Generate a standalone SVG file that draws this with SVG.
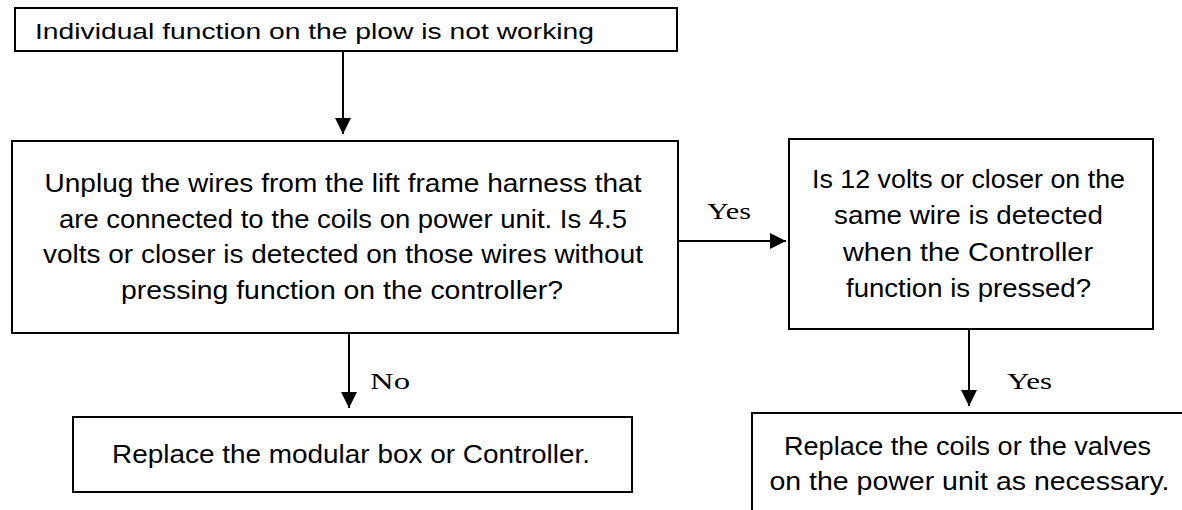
<svg xmlns="http://www.w3.org/2000/svg" width="1182" height="510" viewBox="0 0 1182 510">
<defs>
<marker id="ah" markerWidth="16" markerHeight="16" refX="16" refY="8" orient="auto" markerUnits="userSpaceOnUse"><path d="M0,0 L16,8 L0,16 Z" fill="#000"/></marker>
<style>
.box{fill:#fff;stroke:#000;stroke-width:2}
.t{font-family:"Liberation Sans",Arial,sans-serif;font-size:26px;fill:#000;text-anchor:middle}
.s{font-size:21.5px;text-anchor:start}
.lbl{font-family:"Liberation Serif","Times New Roman",serif;font-size:24px;fill:#000}
.c{stroke:#000;stroke-width:2;fill:none}
</style>
</defs>
<rect width="1182" height="510" fill="#fff"/>
<g id="n1"><rect class="box" x="15" y="8" width="662" height="43"/><text class="t s" x="35" y="39" textLength="559" lengthAdjust="spacingAndGlyphs">Individual function on the plow is not working</text></g>
<g id="n2"><rect class="box" x="12" y="141" width="666" height="192"/>
<text class="t" x="343" y="192" textLength="597" lengthAdjust="spacingAndGlyphs">Unplug the wires from the lift frame harness that</text>
<text class="t" x="343" y="227.5" textLength="568" lengthAdjust="spacingAndGlyphs">are connected to the coils on power unit. Is 4.5</text>
<text class="t" x="343" y="263" textLength="600" lengthAdjust="spacingAndGlyphs">volts or closer is detected on those wires without</text>
<text class="t" x="342" y="298.5" textLength="442" lengthAdjust="spacingAndGlyphs">pressing function on the  controller?</text></g>
<g id="n3"><rect class="box" x="789" y="139" width="364" height="190"/>
<text class="t" x="968.5" y="188" textLength="313" lengthAdjust="spacingAndGlyphs">Is 12 volts or closer on the</text>
<text class="t" x="968.5" y="224" textLength="269" lengthAdjust="spacingAndGlyphs">same wire is detected</text>
<text class="t" x="968" y="260.5" textLength="250" lengthAdjust="spacingAndGlyphs">when the Controller</text>
<text class="t" x="968.5" y="296.5" textLength="245" lengthAdjust="spacingAndGlyphs">function is pressed?</text></g>
<g id="n4"><rect class="box" x="73" y="417" width="559" height="75"/>
<text class="t" x="351" y="463" textLength="478" lengthAdjust="spacingAndGlyphs">Replace the modular box or Controller.</text></g>
<g id="n5"><rect class="box" x="752" y="413" width="460" height="120"/>
<text class="t" x="967.5" y="455" textLength="367" lengthAdjust="spacingAndGlyphs">Replace the coils or the valves</text>
<text class="t" x="969.5" y="490" textLength="400" lengthAdjust="spacingAndGlyphs">on the power unit as necessary.</text></g>
<g id="connectors">
<line class="c" x1="343" y1="51" x2="343" y2="134" marker-end="url(#ah)"/>
<line class="c" x1="678" y1="241" x2="786" y2="241" marker-end="url(#ah)"/>
<line class="c" x1="349" y1="333" x2="349" y2="408" marker-end="url(#ah)"/>
<line class="c" x1="969" y1="329" x2="969" y2="406" marker-end="url(#ah)"/>
<text class="lbl" x="707" y="219" textLength="44" lengthAdjust="spacingAndGlyphs">Yes</text>
<text class="lbl" x="370" y="389" textLength="40" lengthAdjust="spacingAndGlyphs">No</text>
<text class="lbl" x="1007" y="389" textLength="45" lengthAdjust="spacingAndGlyphs">Yes</text>
</g>
</svg>
